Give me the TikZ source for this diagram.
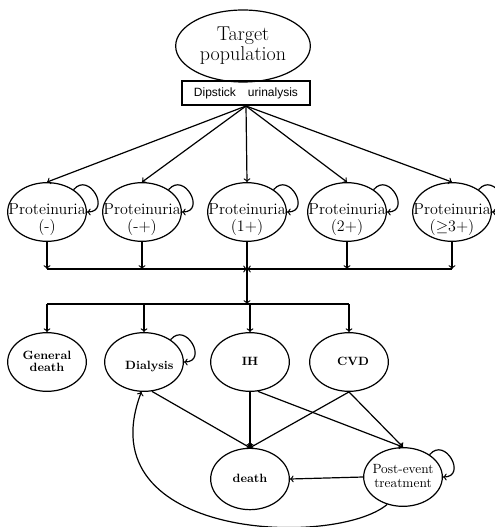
\documentclass[tikz,border=0pt]{standalone}
\usepackage{fontspec}
\setsansfont{Liberation Sans}
\usetikzlibrary{shapes,
	arrows,
	calc,
	positioning}

\newcommand{\inlbl}[2][-3pt]{\makebox[0pt]{\raisebox{#1}[0pt][0pt]{\renewcommand{\arraystretch}{0.85}\begin{tabular}{@{}c@{}}#2\end{tabular}}}}

\begin{document}
\begin{tikzpicture}[x=0.75pt, y=0.75pt, line width=0.9pt, >=to,
                    state/.style={ellipse, draw, inner sep=0pt, minimum width=59pt, minimum height=44pt},
                    prot/.style={state, font=\large},
                    outcome/.style={state, font=\small\bfseries},
                    selfloop/.style={->, out=50, in=0, looseness=2.4}]
                            \useasboundingbox (0,0) rectangle (494,-527);
                            % top
                            \node (target) [ellipse, draw, inner sep=0pt, minimum width=101pt, minimum height=54pt, font=\fontsize{15}{17}\selectfont] at (243,-46) {\inlbl[-4pt]{Target\\population}};
                            \node (dip) [draw, line width=1.5pt, inner sep=0pt, minimum width=96pt, minimum height=18pt, font=\sffamily\small] at (246,-93) {Dipstick\quad urinalysis};
                            % proteinuria levels
                            \node (p1) [prot] at (47,-212) {\inlbl[-9pt]{Proteinuria\\(-)}};
                            \node (p2) [prot] at (142,-212) {\inlbl[-9pt]{Proteinuria\\(-+)}};
                            \node (p3) [prot] at (247,-212) {\inlbl[-9pt]{Proteinuria\\(1+)}};
                            \node (p4) [prot] at (347,-212) {\inlbl[-9pt]{Proteinuria\\(2+)}};
                            \node (p5) [prot] at (452,-212) {\inlbl[-9pt]{Proteinuria\\(\(\geq\)3+)}};
                            % outcomes
                            \node (gd) [outcome] at (47,-362) {\inlbl{General\\death}};
                            \node (dia) [outcome] at (144,-362) {\inlbl[-6pt]{\hspace{8pt}Dialysis}};
                            \node (ih) [outcome] at (250,-362) {\inlbl{IH}};
                            \node (cvd) [outcome] at (349,-362) {\inlbl{\hspace{6pt}CVD}};
                            \node (death) [outcome, minimum height=46pt] at (250,-479) {\inlbl{death}};
                            \node (post) [state] at (403,-477) {\inlbl{Post-event\\treatment}};
                            \coordinate (mC) at (247,-269);
                            \coordinate (split) at (247,-304);
                            % arrows
                            \foreach \n in {p1,p2,p3,p4,p5}
                                \draw[->] (dip.south) -- (\n.north);
                            \foreach \n in {p1,p2,p4,p5}
                                \draw[->] (\n.south) -- (\n.south |- mC);
                            \draw[->] (p1.south |- mC) -- (mC);
                            \draw[->] (p5.south |- mC) -- (mC);
                            \draw[->] (p3.south) -- (split);
                            \draw (gd.north |- split) -- (cvd.north |- split);
                            \foreach \n in {gd,dia,ih,cvd}
                                \draw[->] (\n.north |- split) -- (\n.north);
                            \draw[->] (dia.-75) -- (death.north);
                            \draw[->] (ih.south) -- (death.north);
                            \draw[->] (ih.-75) -- (post.north);
                            \draw[->] (cvd.south) -- (death.north);
                            \draw[->] (cvd.south) -- (post.north);
                            \draw[->] (post.west) -- (death.east);
                            \draw[->] (post.240) .. controls (335,-548) and (85,-540) .. (dia.-95);
                            % self loops
                            \foreach \n in {p1,p2,p3,p4,p5,dia,post}
                                \draw[selfloop] (\n.40) to (\n.east);
                        \end{tikzpicture}
\end{document}
